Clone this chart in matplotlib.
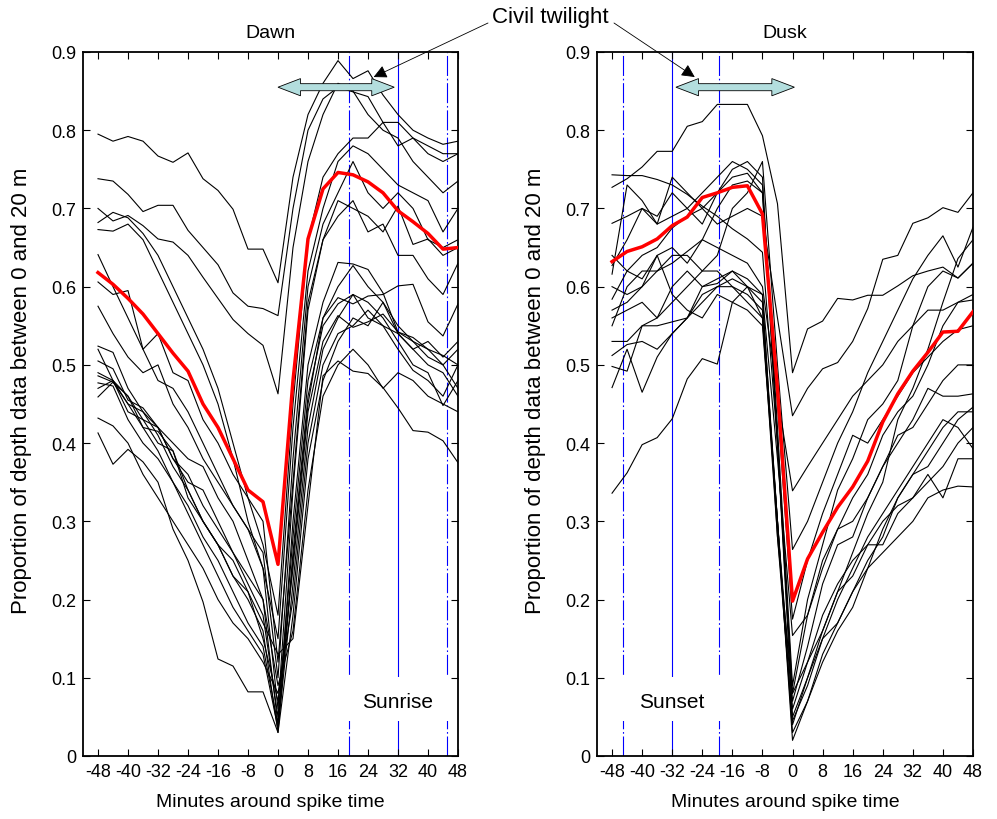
import numpy as np
import matplotlib
matplotlib.use('Agg')
import matplotlib.pyplot as plt
import matplotlib.patches as mpatches

plt.rcParams['font.family'] = ['Liberation Sans', 'DejaVu Sans']
plt.rcParams['axes.unicode_minus'] = False

# minutes around spike time, one sample every 4 min
minutes = list(range(-48, 49, 4))

# ---- Dawn: individual series ----
dawn_01 = [.795, .786, .792, .786, .767, .759, .771, .738, .723, .699, .648, .648, .605, .74, .82, .86, .889, .866, .876, .845, .82, .80, .79, .782, .786]
dawn_02 = [.738, .735, .718, .696, .704, .704, .672, .650, .628, .592, .575, .572, .563, .70, .80, .84, .855, .849, .843, .81, .81, .79, .78, .77, .77]
dawn_03 = [.700, .684, .691, .678, .661, .657, .640, .612, .585, .558, .540, .525, .463, .65, .76, .82, .86, .85, .82, .80, .79, .76, .74, .72, .735]
dawn_04 = [.682, .695, .688, .668, .640, .600, .560, .520, .470, .400, .330, .270, .180, .45, .66, .74, .77, .79, .79, .81, .78, .79, .77, .76, .77]
dawn_05 = [.673, .671, .680, .660, .620, .580, .540, .500, .450, .380, .300, .240, .150, .42, .62, .70, .76, .78, .77, .75, .73, .72, .71, .67, .70]
dawn_06 = [.641, .600, .560, .520, .480, .470, .440, .400, .360, .320, .290, .260, .100, .38, .60, .68, .72, .76, .72, .70, .72, .70, .66, .65, .66]
dawn_07 = [.606, .590, .595, .520, .540, .490, .480, .430, .400, .360, .330, .300, .120, .35, .58, .66, .71, .70, .69, .67, .703, .654, .661, .64, .65]
dawn_08 = [.575, .540, .510, .490, .500, .450, .420, .380, .350, .320, .290, .240, .060, .34, .57, .66, .69, .71, .67, .68, .64, .64, .61, .59, .63]
dawn_09 = [.524, .516, .470, .440, .420, .400, .380, .370, .330, .300, .250, .200, .040, .30, .50, .58, .631, .629, .622, .592, .542, .53, .51, .50, .47]
dawn_10 = [.505, .495, .455, .445, .420, .380, .360, .320, .290, .260, .220, .180, .050, .28, .48, .56, .60, .627, .60, .58, .55, .53, .52, .50, .52]
dawn_11 = [.490, .480, .440, .430, .400, .390, .340, .300, .270, .230, .200, .160, .030, .26, .46, .55, .578, .59, .56, .55, .54, .52, .50, .49, .46]
dawn_12 = [.486, .478, .460, .420, .415, .390, .330, .300, .270, .250, .210, .150, .070, .24, .44, .53, .563, .548, .555, .565, .542, .535, .52, .512, .50]
dawn_13 = [.477, .473, .430, .400, .380, .350, .320, .280, .250, .210, .170, .140, .040, .25, .45, .56, .586, .578, .588, .59, .601, .603, .555, .537, .578]
dawn_14 = [.459, .478, .450, .420, .390, .350, .310, .270, .230, .190, .160, .130, .035, .22, .42, .52, .56, .59, .58, .56, .53, .50, .49, .448, .48]
dawn_15 = [.432, .422, .400, .360, .330, .300, .270, .240, .200, .170, .150, .120, .080, .20, .40, .50, .54, .55, .57, .55, .52, .493, .48, .46, .50]
dawn_16 = [.413, .373, .392, .376, .350, .290, .250, .197, .124, .115, .082, .082, .030, .18, .38, .48, .53, .56, .55, .58, .54, .52, .53, .51, .53]
dawn_17 = [.520, .480, .460, .430, .420, .380, .350, .340, .300, .260, .230, .200, .090, .16, .34, .46, .50, .52, .50, .47, .49, .48, .46, .45, .44]
dawn_18 = [.470, .480, .450, .440, .410, .370, .340, .300, .270, .230, .210, .170, .130, .15, .32, .486, .505, .492, .489, .471, .445, .416, .414, .403, .375]
dawn_mean = [.618, .603, .585, .565, .540, .515, .492, .450, .420, .380, .340, .325, .245, .48, .661, .725, .746, .743, .734, .72, .697, .683, .668, .648, .65]

# ---- Dusk: individual series ----
dusk_01 = [.727, .738, .753, .773, .773, .805, .811, .833, .833, .833, .793, .706, .490, .546, .556, .585, .583, .589, .589, .601, .614, .620, .625, .611, .630]
dusk_02 = [.743, .742, .742, .737, .730, .718, .703, .690, .674, .661, .644, .400, .080, .18, .24, .29, .33, .36, .41, .44, .46, .50, .55, .58, .583]
dusk_03 = [.681, .690, .700, .680, .740, .720, .700, .680, .690, .700, .690, .560, .435, .470, .495, .503, .530, .572, .635, .640, .681, .688, .701, .695, .720]
dusk_04 = [.627, .660, .700, .690, .720, .700, .680, .720, .740, .745, .720, .400, .050, .10, .16, .21, .26, .31, .35, .43, .47, .52, .58, .636, .66]
dusk_05 = [.616, .730, .710, .680, .690, .700, .720, .740, .760, .750, .730, .420, .090, .20, .27, .34, .38, .43, .45, .48, .55, .60, .62, .611, .63]
dusk_06 = [.584, .620, .640, .650, .675, .690, .700, .720, .750, .760, .740, .400, .070, .14, .22, .27, .28, .33, .37, .41, .42, .45, .48, .50, .50]
dusk_07 = [.570, .580, .600, .620, .630, .645, .660, .700, .730, .735, .720, .450, .175, .25, .31, .36, .41, .40, .43, .46, .49, .51, .53, .545, .55]
dusk_08 = [.550, .600, .620, .620, .640, .640, .620, .620, .600, .580, .560, .300, .030, .07, .13, .17, .21, .25, .28, .33, .36, .39, .42, .44, .44]
dusk_09 = [.530, .530, .550, .560, .580, .600, .620, .640, .700, .720, .760, .500, .264, .30, .35, .40, .44, .49, .53, .57, .61, .64, .665, .625, .676]
dusk_10 = [.512, .526, .530, .520, .540, .560, .590, .600, .600, .590, .570, .300, .060, .12, .16, .21, .23, .27, .27, .31, .33, .35, .37, .40, .42]
dusk_11 = [.498, .492, .550, .550, .555, .560, .600, .604, .620, .610, .590, .380, .154, .18, .25, .29, .30, .33, .37, .40, .43, .47, .46, .46, .463]
dusk_12 = [.471, .520, .465, .510, .540, .560, .580, .600, .610, .600, .580, .300, .020, .07, .12, .16, .19, .24, .29, .33, .36, .37, .40, .43, .446]
dusk_13 = [.336, .362, .398, .407, .431, .482, .508, .501, .580, .600, .590, .280, .045, .09, .15, .20, .24, .28, .31, .34, .37, .40, .43, .42, .393]
dusk_14 = [.600, .590, .600, .640, .650, .630, .660, .650, .640, .630, .600, .460, .339, .37, .40, .43, .46, .48, .50, .53, .55, .57, .57, .58, .59]
dusk_15 = [.560, .570, .580, .560, .600, .620, .600, .610, .620, .600, .560, .280, .080, .12, .18, .22, .25, .27, .30, .32, .33, .36, .33, .38, .38]
dusk_16 = [.640, .620, .610, .640, .590, .570, .560, .590, .580, .570, .550, .300, .040, .10, .15, .17, .21, .24, .26, .28, .30, .33, .34, .345, .344]
dusk_mean = [.632, .645, .651, .661, .678, .689, .714, .72, .727, .729, .693, .47, .198, .252, .286, .318, .344, .377, .427, .463, .492, .516, .542, .543, .568]

dawn_series = [dawn_01, dawn_02, dawn_03, dawn_04, dawn_05, dawn_06, dawn_07, dawn_08, dawn_09,
               dawn_10, dawn_11, dawn_12, dawn_13, dawn_14, dawn_15, dawn_16, dawn_17, dawn_18]
dusk_series = [dusk_01, dusk_02, dusk_03, dusk_04, dusk_05, dusk_06, dusk_07, dusk_08,
               dusk_09, dusk_10, dusk_11, dusk_12, dusk_13, dusk_14, dusk_15, dusk_16]

# reference times (min) for the blue vertical lines and twilight span
dawn_dashed = [19, 45]
dawn_solid = 32
dusk_dashed = [-45, -19.5]
dusk_solid = -32
dawn_twilight = (0, 31)
dusk_twilight = (-31, 0.5)

dashdot = (0, (18, 2.5, 1.5, 2.5))


def style_axes(ax):
    ax.set_xlim(-52, 48)
    ax.set_ylim(0, 0.9)
    ax.set_xticks(range(-48, 49, 8))
    yt = np.round(np.arange(0, 0.91, 0.1), 1)
    ax.set_yticks(yt)
    ax.set_yticklabels(['0'] + ['%.1f' % v for v in yt[1:]])
    ax.tick_params(direction='in', top=True, right=True, length=5, width=0.8,
                   labelsize=13, pad=5)
    for sp in ax.spines.values():
        sp.set_linewidth(1.3)
    ax.set_xlabel('Minutes around spike time', fontsize=14)
    ax.set_ylabel('Proportion of depth data between 0 and 20 m', fontsize=16)
    ax.xaxis.set_label_coords(0.5, -0.052)
    ax.yaxis.set_label_coords(-0.135, 0.52)


def twilight_arrow(ax, x0, x1, y):
    head = 6
    hh = 0.011
    sh = 0.0045
    pts = [(x0, y), (x0 + head, y + hh), (x0 + head, y + sh), (x1 - head, y + sh),
           (x1 - head, y + hh), (x1, y), (x1 - head, y - hh), (x1 - head, y - sh),
           (x0 + head, y - sh), (x0 + head, y - hh)]
    ax.add_patch(mpatches.Polygon(pts, closed=True, facecolor='#b3dede',
                                  edgecolor='black', lw=0.6, zorder=5))


fig = plt.figure(figsize=(9.97, 8.2), dpi=100)
ax1 = fig.add_axes([83 / 997, 63 / 820, 375 / 997, 704 / 820])
ax2 = fig.add_axes([597 / 997, 63 / 820, 376 / 997, 704 / 820])

# Dawn panel
for x in dawn_dashed:
    ax1.axvline(x, color='blue', lw=0.8, ls=dashdot, zorder=1)
ax1.axvline(dawn_solid, color='blue', lw=0.8, zorder=1)
for s in dawn_series:
    ax1.plot(minutes, s, color='black', lw=0.8, zorder=2)
ax1.plot(minutes, dawn_mean, color='red', lw=2.5, zorder=3)
ax1.add_patch(mpatches.Rectangle((17, 0.045), 30, 0.056, facecolor='white',
                                 edgecolor='none', zorder=1.5))
ax1.text(dawn_solid, 0.07, 'Sunrise', fontsize=15, ha='center', va='center', zorder=4)
twilight_arrow(ax1, dawn_twilight[0], dawn_twilight[1], 0.855)
style_axes(ax1)
ax1.text(0.5, 1.028, 'Dawn', transform=ax1.transAxes, ha='center', va='center', fontsize=14)

# Dusk panel
for x in dusk_dashed:
    ax2.axvline(x, color='blue', lw=0.8, ls=dashdot, zorder=1)
ax2.axvline(dusk_solid, color='blue', lw=0.8, zorder=1)
for s in dusk_series:
    ax2.plot(minutes, s, color='black', lw=0.8, zorder=2)
ax2.plot(minutes, dusk_mean, color='red', lw=2.5, zorder=3)
ax2.add_patch(mpatches.Rectangle((-47, 0.045), 30, 0.056, facecolor='white',
                                 edgecolor='none', zorder=1.5))
ax2.text(dusk_solid, 0.07, 'Sunset', fontsize=15, ha='center', va='center', zorder=4)
twilight_arrow(ax2, dusk_twilight[0], dusk_twilight[1], 0.855)
style_axes(ax2)
ax2.text(0.5, 1.028, 'Dusk', transform=ax2.transAxes, ha='center', va='center', fontsize=14)

# Civil twilight callout
fig.text(550 / 997, 1 - 18 / 820, 'Civil twilight', ha='center', va='center', fontsize=16)
arrow_kw = dict(arrowstyle='-|>', color='black', lw=0.6, mutation_scale=20,
                shrinkA=0, shrinkB=0)
ax1.annotate('', xy=(25.5, 0.868), xycoords='data',
             xytext=(488 / 997, 1 - 24 / 820), textcoords='figure fraction',
             arrowprops=arrow_kw, annotation_clip=False)
ax2.annotate('', xy=(-26, 0.868), xycoords='data',
             xytext=(614 / 997, 1 - 24 / 820), textcoords='figure fraction',
             arrowprops=arrow_kw, annotation_clip=False)

fig.savefig('out.png', dpi=100)
